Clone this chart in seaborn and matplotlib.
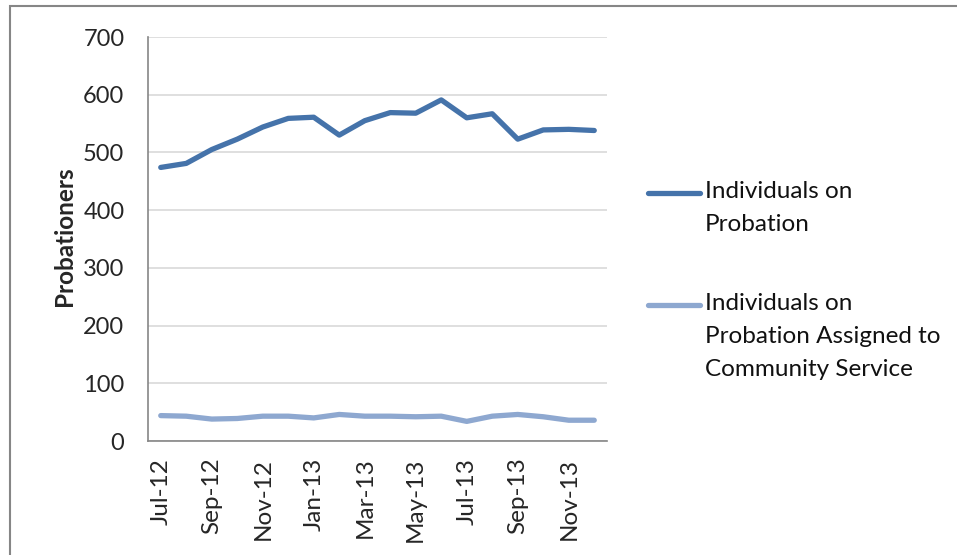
import matplotlib
matplotlib.use("Agg")
import matplotlib.pyplot as plt
import seaborn as sns
import pandas as pd
from matplotlib.patches import Rectangle
from matplotlib.lines import Line2D

months = ["Jul-12", "Aug-12", "Sep-12", "Oct-12", "Nov-12", "Dec-12",
          "Jan-13", "Feb-13", "Mar-13", "Apr-13", "May-13", "Jun-13",
          "Jul-13", "Aug-13", "Sep-13", "Oct-13", "Nov-13", "Dec-13"]
probation = [474, 481, 505, 523, 544, 559, 561, 530, 555, 569, 568, 591,
             560, 567, 523, 539, 540, 538]
community = [44, 43, 38, 39, 43, 43, 40, 46, 43, 43, 42, 43,
             34, 43, 46, 42, 36, 36]
series_names = ["Individuals on\nProbation",
                "Individuals on\nProbation Assigned to\nCommunity Service"]
colors = ["#4573aa", "#8ea8d0"]

df = pd.DataFrame({"month": months * 2,
                   "idx": list(range(len(months))) * 2,
                   "value": probation + community,
                   "series": [series_names[0]] * len(months) + [series_names[1]] * len(months)})

sns.set_style("white")
plt.rcParams["font.family"] = ["Lato", "DejaVu Sans"]

W, H = 957, 555
fig = plt.figure(figsize=(W / 100, H / 100), dpi=100)
ax = fig.add_axes([148 / W, 1 - 441 / H, 459 / W, 404 / H])

sns.lineplot(data=df, x="idx", y="value", hue="series", palette=colors,
             linewidth=3.8, ax=ax, legend=False, solid_capstyle="round")

ax.set_xlim(-0.5, len(months) - 0.5)
ax.set_ylim(0, 700)
ax.set_yticks(range(0, 701, 100))
ax.set_xticks(range(0, len(months), 2))
ax.set_xticklabels(months[::2], rotation=90)
ax.tick_params(axis="y", labelsize=17, length=0, pad=17)
ax.tick_params(axis="x", labelsize=17.5, length=0, pad=12)
ax.yaxis.grid(True, color="#d9d9d9", linewidth=1.2)
ax.set_axisbelow(True)
for side in ["top", "right"]:
    ax.spines[side].set_visible(False)
for side in ["left", "bottom"]:
    ax.spines[side].set_color("#868686")
    ax.spines[side].set_linewidth(1.2)
ax.set_xlabel("")
ax.set_ylabel("Probationers", fontsize=17.5, fontweight="bold")
ax.yaxis.set_label_coords((76 - 148) / 459, (441 - 236) / 404)

# legend drawn by hand so the key lines up with the first text line
legend_y = [193, 305]
for name, c, y in zip(series_names, colors, legend_y):
    fig.add_artist(Line2D([648 / W, 700 / W], [1 - y / H, 1 - y / H],
                          transform=fig.transFigure, color=c, linewidth=3.8,
                          solid_capstyle="round"))
    fig.text(705 / W, 1 - (y - 12) / H, name, fontsize=17.5, va="top",
             ha="left", linespacing=1.72, color="#111111")

fig.patches.append(Rectangle((10 / W, -0.05), 1.1, 1 - 6 / H + 0.05,
                             transform=fig.transFigure, fill=False,
                             edgecolor="#868686", linewidth=1.5))

fig.savefig("out.png", dpi=100)
